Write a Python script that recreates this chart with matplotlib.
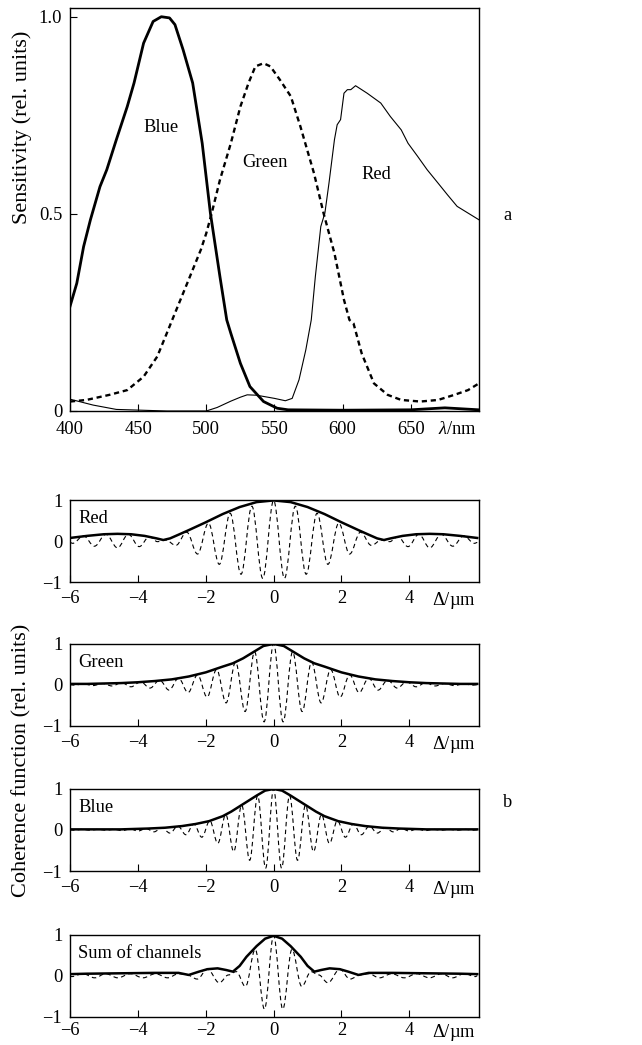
import numpy as np
import matplotlib
matplotlib.use('Agg')
import matplotlib.pyplot as plt
from matplotlib.path import Path
from matplotlib.patches import PathPatch

plt.rcParams['font.family'] = 'Liberation Serif'
plt.rcParams['mathtext.fontset'] = 'custom'
plt.rcParams['mathtext.rm'] = 'Liberation Serif'
plt.rcParams['mathtext.it'] = 'Liberation Serif:italic'

# --- (a) spectral sensitivity ---
wl_blue = [400, 405, 410, 415, 422, 427, 434, 442, 447, 454, 461, 467, 473, 477, 483, 490,
           497, 503, 510, 515, 518, 525, 532, 542, 552, 560, 600, 650, 675, 700]
sens_blue = [0.265, 0.324, 0.417, 0.485, 0.569, 0.612, 0.688, 0.772, 0.832, 0.933, 0.988, 1.0,
             0.997, 0.98, 0.916, 0.832, 0.679, 0.502, 0.341, 0.231, 0.197, 0.121, 0.062, 0.024,
             0.007, 0.003, 0.002, 0.003, 0.008, 0.003]

wl_green = [400, 412, 429, 442, 454, 464, 471, 477, 486, 496, 500, 504, 510, 518, 525, 531,
            536, 542, 547, 554, 562, 569, 579, 586, 594, 601, 605, 608, 614, 623, 633, 643,
            657, 670, 682, 692, 700]
sens_green = [0.024, 0.028, 0.041, 0.053, 0.087, 0.138, 0.197, 0.248, 0.324, 0.409, 0.451,
              0.502, 0.586, 0.679, 0.772, 0.832, 0.874, 0.882, 0.874, 0.84, 0.798, 0.722,
              0.603, 0.502, 0.4, 0.282, 0.231, 0.222, 0.146, 0.07, 0.041, 0.028, 0.024,
              0.028, 0.041, 0.053, 0.07]

wl_red = [400, 417, 434, 471, 500, 508, 518, 525, 530, 537, 550, 558, 563, 568, 573, 577,
          580, 584, 587, 590, 594, 596, 598.5, 601, 603.5, 606, 609.5, 618, 628, 635, 643,
          648, 655, 662, 670, 677, 684, 692, 700]
sens_red = [0.03, 0.015, 0.004, 0.0, 0.0, 0.009, 0.025, 0.035, 0.041, 0.04, 0.032, 0.026,
            0.032, 0.079, 0.155, 0.231, 0.341, 0.468, 0.502, 0.578, 0.688, 0.726, 0.739,
            0.806, 0.815, 0.815, 0.825, 0.806, 0.781, 0.747, 0.713, 0.679, 0.646, 0.612,
            0.578, 0.548, 0.519, 0.502, 0.485]

# --- (b) coherence functions: envelope (solid) and extrema of the fringes (dashed) ---
env_red_x = [-6.0, -5.5, -5.0, -4.6, -4.2, -3.8, -3.45, -3.25, -3.05, -2.8, -2.5, -2.0, -1.5,
             -1.0, -0.5, 0.0, 0.5, 1.0, 1.5, 2.0, 2.5, 2.8, 3.05, 3.25, 3.45, 3.8, 4.2, 4.6,
             5.0, 5.5, 6.0]
env_red_y = [0.08, 0.13, 0.17, 0.18, 0.17, 0.13, 0.07, 0.03, 0.07, 0.16, 0.27, 0.46, 0.66,
             0.83, 0.95, 0.99, 0.95, 0.83, 0.66, 0.46, 0.27, 0.16, 0.07, 0.03, 0.07, 0.13,
             0.17, 0.18, 0.17, 0.13, 0.08]
fr_red_x = [-6.0, -5.92, -5.6, -5.28, -4.94, -4.6, -4.28, -3.96, -3.66, -3.42, -3.18, -2.88,
            -2.56, -2.24, -1.92, -1.6, -1.28, -0.96, -0.64, -0.32, 0.0, 0.32, 0.64, 0.96, 1.28,
            1.6, 1.92, 2.24, 2.56, 2.88, 3.18, 3.42, 3.66, 3.96, 4.28, 4.6, 4.94, 5.28, 5.6,
            5.92, 6.0]
fr_red_y = [-0.03, -0.05, 0.13, -0.12, 0.17, -0.16, 0.17, -0.13, 0.11, -0.01, 0.03, -0.1,
            0.22, -0.31, 0.44, -0.56, 0.68, -0.8, 0.85, -0.9, 0.99, -0.9, 0.85, -0.8, 0.68,
            -0.56, 0.44, -0.31, 0.22, -0.1, 0.03, -0.01, 0.11, -0.13, 0.17, -0.16, 0.17,
            -0.12, 0.13, -0.05, -0.03]

env_green_x = [-6.0, -5.5, -5.0, -4.5, -4.0, -3.5, -3.0, -2.5, -2.0, -1.5, -1.2, -0.9, -0.6,
               -0.3, 0.0, 0.3, 0.6, 0.9, 1.2, 1.5, 2.0, 2.5, 3.0, 3.5, 4.0, 4.5, 5.0, 5.5, 6.0]
env_green_y = [0.02, 0.02, 0.03, 0.04, 0.06, 0.09, 0.13, 0.2, 0.3, 0.44, 0.52, 0.64, 0.79,
               0.94, 0.99, 0.94, 0.79, 0.64, 0.52, 0.44, 0.3, 0.2, 0.13, 0.09, 0.06, 0.04,
               0.03, 0.02, 0.02]
fr_green_x = [-6.0, -5.88, -5.6, -5.32, -5.04, -4.76, -4.48, -4.2, -3.92, -3.64, -3.36, -3.08,
              -2.8, -2.52, -2.24, -1.96, -1.68, -1.4, -1.12, -0.84, -0.56, -0.28, 0.0, 0.28,
              0.56, 0.84, 1.12, 1.4, 1.68, 1.96, 2.24, 2.52, 2.8, 3.08, 3.36, 3.64, 3.92, 4.2,
              4.48, 4.76, 5.04, 5.32, 5.6, 5.88, 6.0]
fr_green_y = [0.0, -0.01, 0.02, -0.02, 0.03, -0.03, 0.05, -0.05, 0.07, -0.08, 0.11, -0.13,
              0.16, -0.19, 0.24, -0.3, 0.37, -0.44, 0.55, -0.65, 0.8, -0.9, 0.99, -0.9, 0.8,
              -0.65, 0.55, -0.44, 0.37, -0.3, 0.24, -0.19, 0.16, -0.13, 0.11, -0.08, 0.07,
              -0.05, 0.05, -0.03, 0.03, -0.02, 0.02, -0.01, 0.0]

env_blue_x = [-6.0, -5.5, -4.5, -3.7, -3.2, -2.7, -2.3, -1.9, -1.5, -1.25, -1.0, -0.75, -0.5,
              -0.25, 0.0, 0.25, 0.5, 0.75, 1.0, 1.25, 1.5, 1.9, 2.3, 2.7, 3.2, 3.7, 4.5, 5.5, 6.0]
env_blue_y = [0.01, 0.01, 0.01, 0.03, 0.05, 0.09, 0.14, 0.21, 0.33, 0.44, 0.57, 0.7, 0.83,
              0.95, 0.99, 0.95, 0.83, 0.7, 0.57, 0.44, 0.33, 0.21, 0.14, 0.09, 0.05, 0.03,
              0.01, 0.01, 0.01]
fr_blue_x = [-6.0, -5.875, -5.64, -5.405, -5.17, -4.935, -4.7, -4.465, -4.23, -3.995, -3.76,
             -3.525, -3.29, -3.055, -2.82, -2.585, -2.35, -2.115, -1.88, -1.645, -1.41, -1.175,
             -0.94, -0.705, -0.47, -0.235, 0.0, 0.235, 0.47, 0.705, 0.94, 1.175, 1.41, 1.645,
             1.88, 2.115, 2.35, 2.585, 2.82, 3.055, 3.29, 3.525, 3.76, 3.995, 4.23, 4.465, 4.7,
             4.935, 5.17, 5.405, 5.64, 5.875, 6.0]
fr_blue_y = [0.0, -0.01, 0.01, -0.01, 0.01, -0.01, 0.01, -0.02, 0.02, -0.03, 0.03, -0.05,
             0.05, -0.08, 0.09, -0.12, 0.14, -0.18, 0.22, -0.33, 0.37, -0.53, 0.6, -0.74,
             0.83, -0.93, 0.99, -0.93, 0.83, -0.74, 0.6, -0.53, 0.37, -0.33, 0.22, -0.18,
             0.14, -0.12, 0.09, -0.08, 0.05, -0.05, 0.03, -0.03, 0.02, -0.02, 0.01, -0.01,
             0.01, -0.01, 0.01, -0.01, 0.0]

env_sum_x = [-6.0, -5.5, -4.5, -3.5, -2.8, -2.5, -2.2, -1.95, -1.65, -1.4, -1.2, -1.0, -0.8,
             -0.5, -0.25, 0.0, 0.25, 0.5, 0.8, 1.0, 1.2, 1.4, 1.65, 1.95, 2.2, 2.5, 2.8, 3.5,
             4.5, 5.5, 6.0]
env_sum_y = [0.04, 0.05, 0.06, 0.07, 0.07, 0.02, 0.1, 0.16, 0.18, 0.14, 0.1, 0.24, 0.46, 0.72,
             0.9, 0.97, 0.9, 0.72, 0.46, 0.24, 0.1, 0.14, 0.18, 0.16, 0.1, 0.02, 0.07, 0.07,
             0.06, 0.05, 0.04]
fr_sum_x = [-6.0, -5.95, -5.62, -5.27, -4.95, -4.59, -4.22, -3.85, -3.48, -3.12, -2.8, -2.55,
            -2.25, -1.95, -1.6, -1.33, -1.1, -0.83, -0.54, -0.27, 0.0, 0.27, 0.54, 0.83, 1.1,
            1.33, 1.6, 1.95, 2.25, 2.55, 2.8, 3.12, 3.48, 3.85, 4.22, 4.59, 4.95, 5.27, 5.62,
            5.95, 6.0]
fr_sum_y = [0.0, -0.02, 0.05, -0.05, 0.05, -0.05, 0.05, -0.05, 0.05, -0.05, 0.05, 0.02,
            -0.08, 0.16, -0.17, 0.02, 0.1, -0.26, 0.64, -0.81, 0.97, -0.81, 0.64, -0.26, 0.1,
            0.02, -0.17, 0.16, -0.08, 0.02, 0.05, -0.05, 0.05, -0.05, 0.05, -0.05, 0.05,
            -0.05, 0.05, -0.02, 0.0]

panels = [
    ('Red', env_red_x, env_red_y, fr_red_x, fr_red_y),
    ('Green', env_green_x, env_green_y, fr_green_x, fr_green_y),
    ('Blue', env_blue_x, env_blue_y, fr_blue_x, fr_blue_y),
    ('Sum of channels', env_sum_x, env_sum_y, fr_sum_x, fr_sum_y),
]


def curva_suave(xs, ys):
    # smooth line through the extrema (horizontal tangent at each extremum)
    verts = [(xs[0], ys[0])]
    codes = [Path.MOVETO]
    for i in range(1, len(xs)):
        d = (xs[i] - xs[i - 1]) * 0.36
        verts += [(xs[i - 1] + d, ys[i - 1]), (xs[i] - d, ys[i]), (xs[i], ys[i])]
        codes += [Path.CURVE4] * 3
    return Path(verts, codes)


fs = 13.3      # ticks and labels inside the plots
fs_lab = 16    # axis titles
fig = plt.figure(figsize=(6.42, 10.45), dpi=100)

# panel a
ax = fig.add_axes([0.109, 0.6067, 0.637, 0.3856])
ax.plot(wl_blue, sens_blue, color='black', lw=2.0, solid_joinstyle='round')
ax.plot(wl_green, sens_green, color='black', lw=1.7, ls=(0, (2.2, 1.6)))
ax.plot(wl_red, sens_red, color='black', lw=0.8)
ax.set_xlim(400, 700)
ax.set_ylim(0, 1.022)
ax.set_xticks([400, 450, 500, 550, 600, 650, 684])
ax.set_xticklabels(['400', '450', '500', '550', '600', '650', r'$\lambda$/nm'])
ax.xaxis.get_major_ticks()[-1].tick1line.set_visible(False)
ax.set_yticks([0, 0.5, 1.0])
ax.set_yticklabels(['0', '0.5', '1.0'])
ax.tick_params(axis='x', direction='in', length=5, width=0.8, labelsize=fs, pad=7.5)
ax.tick_params(axis='y', direction='in', length=5, width=0.8, labelsize=fs, pad=5.5)
for s in ax.spines.values():
    s.set_linewidth(1.0)
ax.text(467, 0.72, 'Blue', fontsize=fs, ha='center', va='center')
ax.text(543, 0.63, 'Green', fontsize=fs, ha='center', va='center')
ax.text(625, 0.60, 'Red', fontsize=fs, ha='center', va='center')
fig.text(0.034, 0.8785, 'Sensitivity (rel. units)', rotation=90, fontsize=fs_lab,
         ha='center', va='center')
fig.text(0.791, 0.794, 'a', fontsize=fs, ha='center', va='center')

# panel b
bottoms = [0.4426, 0.3053, 0.1665, 0.0268]
pads = [5.5, 5.5, 5.5, 3.5]
for (nombre, ex, ey, fx, fy), b, p in zip(panels, bottoms, pads):
    axb = fig.add_axes([0.109, b, 0.637, 0.0789])
    axb.plot(ex, ey, color='black', lw=1.8, solid_joinstyle='round')
    axb.add_patch(PathPatch(curva_suave(fx, fy), fill=False, edgecolor='black',
                            lw=0.8, ls=(0, (4, 3))))
    axb.set_xlim(-6, 6.05)
    axb.set_ylim(-1, 1)
    axb.set_xticks([-6, -4, -2, 0, 2, 4, 5.3])
    axb.set_xticklabels(['\u22126', '\u22124', '\u22122', '0', '2', '4',
                         '$\\mathit{\\Delta}$/\u00b5m'])
    axb.xaxis.get_major_ticks()[-1].tick1line.set_visible(False)
    axb.set_yticks([-1, 0, 1])
    axb.set_yticklabels(['\u22121', '0', '1'])
    axb.tick_params(axis='x', direction='in', length=5, width=0.8, labelsize=fs, pad=p)
    axb.tick_params(axis='y', direction='in', length=0, labelsize=fs, pad=5.5)
    for s in axb.spines.values():
        s.set_linewidth(1.0)
    axb.text(0.02, 0.77, nombre, transform=axb.transAxes, fontsize=fs,
             ha='left', va='center')

fig.text(0.034, 0.2727, 'Coherence function (rel. units)', rotation=90, fontsize=fs_lab,
         ha='center', va='center')
fig.text(0.791, 0.2316, 'b', fontsize=fs, ha='center', va='center')

fig.savefig('out.png', dpi=100)
